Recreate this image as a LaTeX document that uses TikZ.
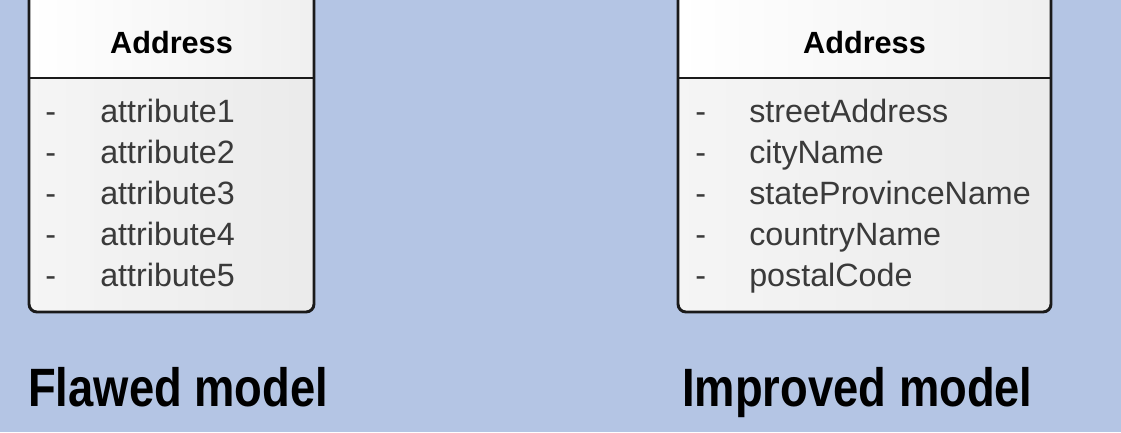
\documentclass[tikz,border=0pt]{standalone}
\usepackage{fontspec}
\setmainfont{Liberation Sans}
\newfontfamily\capfont[FakeStretch=0.84]{Liberation Sans}
\usepackage{tikz}
\usetikzlibrary{positioning,calc}
\definecolor{palBg}{HTML}{B4C5E4}
\definecolor{palLine}{HTML}{1A1A1A}
\definecolor{palText}{HTML}{3A3A3A}
\tikzset{
  boxline/.style={draw=palLine, line width=2.2pt, rounded corners=6pt},
  sepline/.style={draw=palLine, line width=2.2pt},
  headfill/.style={left color=white, right color=gray!12},
  bodyfill/.style={left color=gray!8, middle color=white, right color=gray!16,
                   rounded corners=6pt},
  headtext/.style={font=\fontsize{23}{26}\selectfont\bfseries, text=black,
                   inner sep=0pt, anchor=base},
  attrtext/.style={font=\fontsize{24.2}{27}\selectfont, text=palText,
                   inner sep=0pt, anchor=base west},
  captext/.style={font=\capfont\fontsize{40.5}{44}\selectfont\bfseries,
                  text=black, inner sep=0pt, anchor=base west},
}

\begin{document}
\begin{tikzpicture}[x=0.75pt, y=-0.75pt]
\fill[palBg] (0,0) rectangle (1121,432);
\useasboundingbox (0,0) rectangle (1121,432);
\clip (0,0) rectangle (1121,432);
%% Flawed class
\path[bodyfill] (29,-20) rectangle (314,312);
\path[headfill] (29,-20) rectangle (314,78);
\draw[boxline] (29,-20) rectangle (314,312);
\draw[sepline] (29,78) -- (314,78);
\node[headtext] (flawedHead) at (171.5,53) {Address};
\foreach \attr [count=\i] in {attribute1,attribute2,attribute3,attribute4,attribute5}{
  \node[attrtext] (flawedDash\i) at (45,{122+(\i-1)*41.2}) {-};
  \node[attrtext] (flawedAttr\i) at (100,{122+(\i-1)*41.2}) {\attr};
}
%% Improved class
\path[bodyfill] (678,-20) rectangle (1051,312);
\path[headfill] (678,-20) rectangle (1051,78);
\draw[boxline] (678,-20) rectangle (1051,312);
\draw[sepline] (678,78) -- (1051,78);
\node[headtext] (improvedHead) at (864.5,53) {Address};
\foreach \attr [count=\i] in {streetAddress,cityName,stateProvinceName,countryName,postalCode}{
  \node[attrtext] (improvedDash\i) at (695,{122+(\i-1)*41.2}) {-};
  \node[attrtext] (improvedAttr\i) at (749,{122+(\i-1)*41.2}) {\attr};
}
%% Captions
\node[captext] (flawedCap) at (28,406) {Flawed model};
\node[captext] (improvedCap) at (682,406) {Improved model};
\end{tikzpicture}
\end{document}
